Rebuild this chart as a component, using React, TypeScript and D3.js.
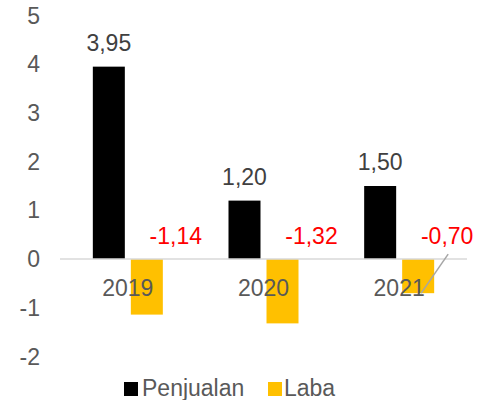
import React from 'react';
import * as d3 from 'd3';

const years = ['2019', '2020', '2021'];
const seriesNames = ['Penjualan', 'Laba'];
const penjualan = [3.95, 1.2, 1.5];
const laba = [-1.14, -1.32, -0.7];
const yTicks = [-2, -1, 0, 1, 2, 3, 4, 5];
const colors = ['#000000', '#FFC000'];

const W = 484;
const H = 400;
const font = '"Liberation Sans", Arial, sans-serif';
const fs = 23;
const fmt = (v: number) => v.toFixed(2).replace('.', ',');

export default function App() {
  const y = d3.scaleLinear().domain([-2, 5]).range([356.5, 15.5]);
  const x0 = d3.scaleBand<string>().domain(years).range([60, 467]).padding(0);
  const x1 = d3.scaleBand<string>().domain(seriesNames).range([0, 70]).paddingInner(0.158);
  const groupOffset = (x0.bandwidth() - 70) / 2;
  const values = [penjualan, laba];

  return (
    <svg width={W} height={H} style={{ position: 'absolute', left: 0, top: 0 }} fontFamily={font}>
      <rect width={W} height={H} fill="#ffffff" />
      {yTicks.map((t) => (
        <text key={t} x={40} y={y(t)} dy="0.35em" textAnchor="end" fontSize={fs} fill="#595959">
          {t}
        </text>
      ))}
      {years.map((yr, i) =>
        seriesNames.map((s, si) => {
          const v = values[si][i];
          const bx = (x0(yr) as number) + groupOffset + (x1(s) as number);
          return (
            <rect
              key={yr + s}
              x={bx}
              y={y(Math.max(0, v))}
              width={x1.bandwidth()}
              height={Math.abs(y(v) - y(0))}
              fill={colors[si]}
            />
          );
        })
      )}
      <line x1={60} x2={467} y1={y(0)} y2={y(0)} stroke="#D9D9D9" strokeWidth={1.5} />
      {years.map((yr) => (
        <text key={yr} x={(x0(yr) as number) + x0.bandwidth() / 2} y={296} textAnchor="middle" fontSize={fs} fill="#595959">
          {yr}
        </text>
      ))}
      {years.map((yr, i) => {
        const cx = (x0(yr) as number) + groupOffset + (x1('Penjualan') as number) + x1.bandwidth() / 2;
        return (
          <text key={'p' + yr} x={cx} y={y(penjualan[i]) - 16} textAnchor="middle" fontSize={fs} fill="#404040">
            {fmt(penjualan[i])}
          </text>
        );
      })}
      {years.map((yr, i) => {
        const cx = (x0(yr) as number) + groupOffset + (x1('Laba') as number) + x1.bandwidth() / 2;
        const lx = cx + 29;
        return (
          <g key={'l' + yr}>
            {i === 2 && (
              <line x1={lx + 1} y1={y(0) - 5} x2={cx + 3} y2={y(laba[i])} stroke="#A6A6A6" strokeWidth={1.5} />
            )}
            <text x={lx} y={244} textAnchor="middle" fontSize={fs} fill="#FF0000">
              {fmt(laba[i])}
            </text>
          </g>
        );
      })}
      <g>
        <rect x={124} y={382} width={14} height={14} fill={colors[0]} />
        <text x={142} y={396} fontSize={fs} fill="#595959">
          {seriesNames[0]}
        </text>
        <rect x={268} y={382} width={14} height={14} fill={colors[1]} />
        <text x={284} y={396} fontSize={fs} fill="#595959">
          {seriesNames[1]}
        </text>
      </g>
    </svg>
  );
}
